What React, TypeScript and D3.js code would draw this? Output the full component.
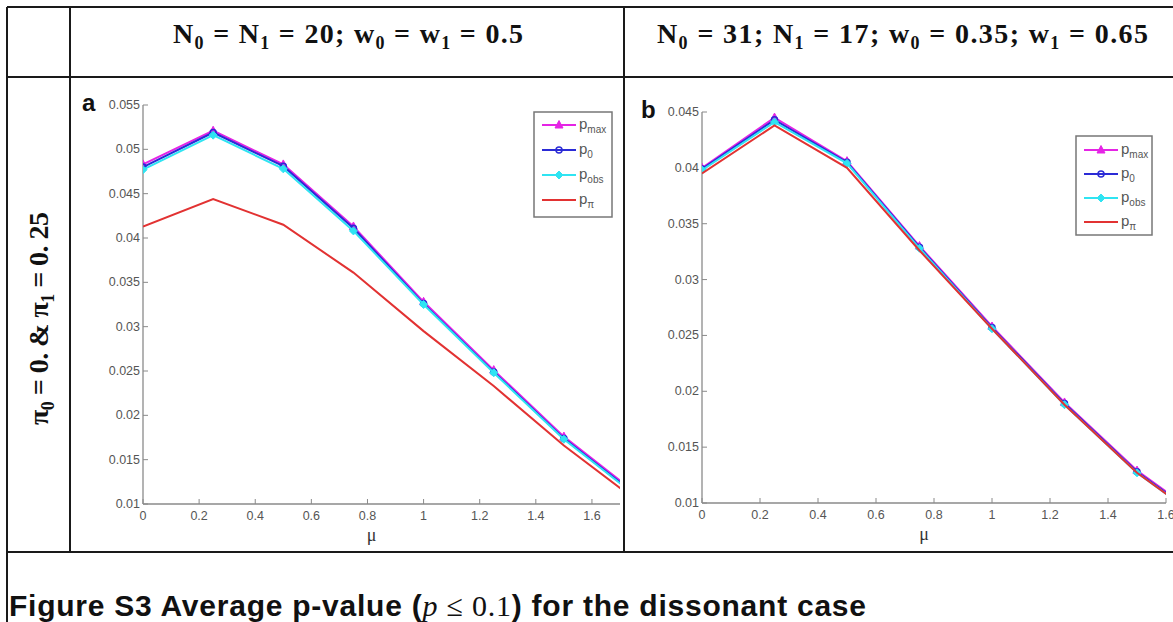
import * as d3 from 'd3'

const W = 1173, H = 622

// x values (mu) shared by both panels
const MU = [0, 0.25, 0.5, 0.75, 1, 1.25, 1.5, 1.75]

// panel a: N0 = N1 = 20; w0 = w1 = 0.5
const A_PMAX = [0.0483, 0.0521, 0.0483, 0.0413, 0.0328, 0.0251, 0.0176, 0.0114]
const A_P0 = [0.0480, 0.0519, 0.0481, 0.0411, 0.0326, 0.0249, 0.0174, 0.0112]
const A_POBS = [0.0477, 0.0516, 0.0478, 0.0408, 0.0325, 0.0248, 0.0173, 0.0111]
const A_PPI = [0.0413, 0.0444, 0.0415, 0.0361, 0.0295, 0.0233, 0.0166, 0.0106]

// panel b: N0 = 31; N1 = 17; w0 = 0.35; w1 = 0.65
const B_PMAX = [0.0400, 0.0445, 0.0406, 0.0330, 0.0258, 0.0190, 0.0129, 0.0082]
const B_P0 = [0.0399, 0.0443, 0.0405, 0.0329, 0.0257, 0.0189, 0.0128, 0.0081]
const B_POBS = [0.0398, 0.0441, 0.0404, 0.0328, 0.0256, 0.0188, 0.0127, 0.0080]
const B_PPI = [0.0395, 0.0438, 0.0400, 0.0326, 0.0256, 0.0188, 0.0127, 0.0080]

const X_TICKS = [0, 0.2, 0.4, 0.6, 0.8, 1, 1.2, 1.4, 1.6]
const A_Y_TICKS = [0.01, 0.015, 0.02, 0.025, 0.03, 0.035, 0.04, 0.045, 0.05, 0.055]
const B_Y_TICKS = [0.01, 0.015, 0.02, 0.025, 0.03, 0.035, 0.04, 0.045]

// header texts, "_" marks a subscript piece
const HEAD_A = ['N', '_0', ' = N', '_1', ' = 20; w', '_0', ' = w', '_1', ' = 0.5']
const HEAD_B = ['N', '_0', ' = 31; N', '_1', ' = 17; w', '_0', ' = 0.35; w', '_1', ' = 0.65']
const ROW_HEAD = ['π', '_0', ' = 0. & π', '_1', ' = 0. 25']

const SERIES = [
  { key: 'max', sub: 'max', color: '#e524e5', marker: 'tri' },
  { key: 'p0', sub: '0', color: '#2b2bd6', marker: 'circle' },
  { key: 'obs', sub: 'obs', color: '#2fe4f2', marker: 'diamond' },
  { key: 'pi', sub: 'π', color: '#e23232', marker: 'none' },
]

const fmt = (v: number) => String(+v.toFixed(3))
const SANS = 'Arial, "Liberation Sans", sans-serif'
const SERIF = '"Liberation Serif", "DejaVu Serif", serif'

function Marker({ type, x, y, color }: { type: string; x: number; y: number; color: string }) {
  if (type === 'tri')
    return <path d={`M${x},${y - 4.5}L${x + 4},${y + 3}L${x - 4},${y + 3}Z`} fill={color} stroke={color} strokeWidth={1} />
  if (type === 'circle')
    return <circle cx={x} cy={y} r={3} fill="none" stroke={color} strokeWidth={1.5} />
  if (type === 'diamond')
    return <path d={`M${x},${y - 4}L${x + 4},${y}L${x},${y + 4}L${x - 4},${y}Z`} fill={color} stroke={color} strokeWidth={1} />
  return null
}

function Rich({ parts, subSize, shift }: { parts: string[]; subSize: number; shift: number }) {
  let down = false
  return (
    <>
      {parts.map((p, i) => {
        const isSub = p.startsWith('_')
        let dy = 0
        if (isSub && !down) { dy = shift; down = true }
        else if (!isSub && down) { dy = -shift; down = false }
        return (
          <tspan key={i} dy={dy} fontSize={isSub ? subSize : undefined}>{isSub ? p.slice(1) : p}</tspan>
        )
      })}
    </>
  )
}

function Panel({ id, label, xMax, xRange, yMax, yRange, yTicks, series, legend }: any) {
  const x = d3.scaleLinear().domain([0, xMax]).range(xRange)
  const y = d3.scaleLinear().domain([0.01, yMax]).range(yRange)
  const line = d3.line<number>().x((_, i) => x(MU[i])).y(d => y(d))
  const [x0, x1] = xRange
  const [yb, yt] = yRange
  const clip = `clip-${id}`
  return (
    <g>
      <defs>
        <clipPath id={clip}>
          <rect x={x0} y={yt - 10} width={x1 - x0} height={yb - yt + 10} />
        </clipPath>
      </defs>
      {/* panel letter */}
      <text x={x0 - 61} y={yt + 6} fontFamily={SANS} fontWeight="700" fontSize={24} fill="#111">{label}</text>

      {/* axes */}
      <line x1={x0} x2={x1} y1={yb} y2={yb} stroke="#8a8a8a" strokeWidth={1.3} />
      <line x1={x0} x2={x0} y1={yb} y2={yt} stroke="#8a8a8a" strokeWidth={1.3} />
      {X_TICKS.map(t => (
        <g key={t}>
          <line x1={x(t)} x2={x(t)} y1={yb} y2={yb - 5} stroke="#8a8a8a" />
          <text x={x(t)} y={yb + 16} textAnchor="middle" fontFamily={SANS} fontSize={12.5} fill="#555">{fmt(t)}</text>
        </g>
      ))}
      {yTicks.map((t: number) => (
        <g key={t}>
          <line x1={x0} x2={x0 + 5} y1={y(t)} y2={y(t)} stroke="#8a8a8a" />
          <text x={x0 - 3} y={y(t) + 4} textAnchor="end" fontFamily={SANS} fontSize={12.5} fill="#555">{fmt(t)}</text>
        </g>
      ))}
      <text x={(x0 + x1) / 2 - 10} y={yb + 37} textAnchor="middle" fontFamily={SERIF} fontSize={18} fill="#333">μ</text>

      {/* series */}
      <g clipPath={`url(#${clip})`}>
        {SERIES.map((s, k) => (
          <g key={s.key}>
            <path d={line(series[k]) || ''} fill="none" stroke={s.color} strokeWidth={2} />
            {series[k].map((v: number, i: number) =>
              MU[i] <= xMax ? <Marker key={i} type={s.marker} x={x(MU[i])} y={y(v)} color={s.color} /> : null
            )}
          </g>
        ))}
      </g>

      {/* legend */}
      <g transform={`translate(${legend.x},${legend.y})`}>
        <rect width={legend.w} height={legend.h} fill="#fff" stroke="#777" strokeWidth={1.5} />
        {SERIES.map((s, k) => {
          const ly = legend.top + k * legend.step
          return (
            <g key={s.key}>
              <line x1={8} x2={42} y1={ly} y2={ly} stroke={s.color} strokeWidth={2} />
              <Marker type={s.marker} x={25} y={ly} color={s.color} />
              <text x={45} y={ly + 4} fontFamily={SANS} fontSize={15} fill="#555">
                p<tspan fontSize={10} dy={4}>{s.sub}</tspan>
              </text>
            </g>
          )
        })}
      </g>
    </g>
  )
}

export default function App() {
  const hdr = { fontFamily: SERIF, fontWeight: 700, fontSize: 28, fill: '#111' }
  return (
    <svg width={W} height={H} style={{ position: 'absolute', left: 0, top: 0, background: '#fff' }}>
      <rect width={W} height={H} fill="#fff" />
      {/* table grid */}
      <g stroke="#1a1a1a" strokeWidth={2}>
        <line x1={7} x2={W} y1={7} y2={7} />
        <line x1={7} x2={W} y1={77} y2={77} />
        <line x1={7} x2={W} y1={552} y2={552} />
        <line x1={7} x2={7} y1={7} y2={H} />
        <line x1={70} x2={70} y1={7} y2={552} />
        <line x1={624} x2={624} y1={7} y2={552} />
      </g>

      {/* column headers */}
      <text x={173} y={43} {...hdr} textLength={350} lengthAdjust="spacing">
        <Rich parts={HEAD_A} subSize={18} shift={6} />
      </text>
      <text x={657} y={43} {...hdr} textLength={491} lengthAdjust="spacing">
        <Rich parts={HEAD_B} subSize={18} shift={6} />
      </text>

      {/* row header */}
      <text transform="translate(48,425) rotate(-90)" {...hdr} textLength={213} lengthAdjust="spacing">
        <Rich parts={ROW_HEAD} subSize={18} shift={6} />
      </text>

      <Panel id="a" label="a" xMax={1.7} xRange={[143, 620]} yMax={0.055} yRange={[504, 105]} yTicks={A_Y_TICKS}
        series={[A_PMAX, A_P0, A_POBS, A_PPI]}
        legend={{ x: 534, y: 112, w: 78, h: 105, top: 13, step: 25 }} />
      <Panel id="b" label="b" xMax={1.6} xRange={[702, 1166]} yMax={0.045} yRange={[503, 112]} yTicks={B_Y_TICKS}
        series={[B_PMAX, B_P0, B_POBS, B_PPI]}
        legend={{ x: 1076, y: 136, w: 76, h: 99, top: 14, step: 24 }} />

      {/* caption */}
      <text x={9} y={616} fontFamily={SANS} fontWeight="700" fontSize={30} fill="#111" textLength={857} lengthAdjust="spacing">
        Figure S3 Average p-value (<tspan fontFamily={SERIF} fontStyle="italic" fontWeight="400">p</tspan>
        <tspan fontFamily={SERIF} fontWeight="400"> ≤ 0.1</tspan>) for the dissonant case
      </text>
    </svg>
  )
}
